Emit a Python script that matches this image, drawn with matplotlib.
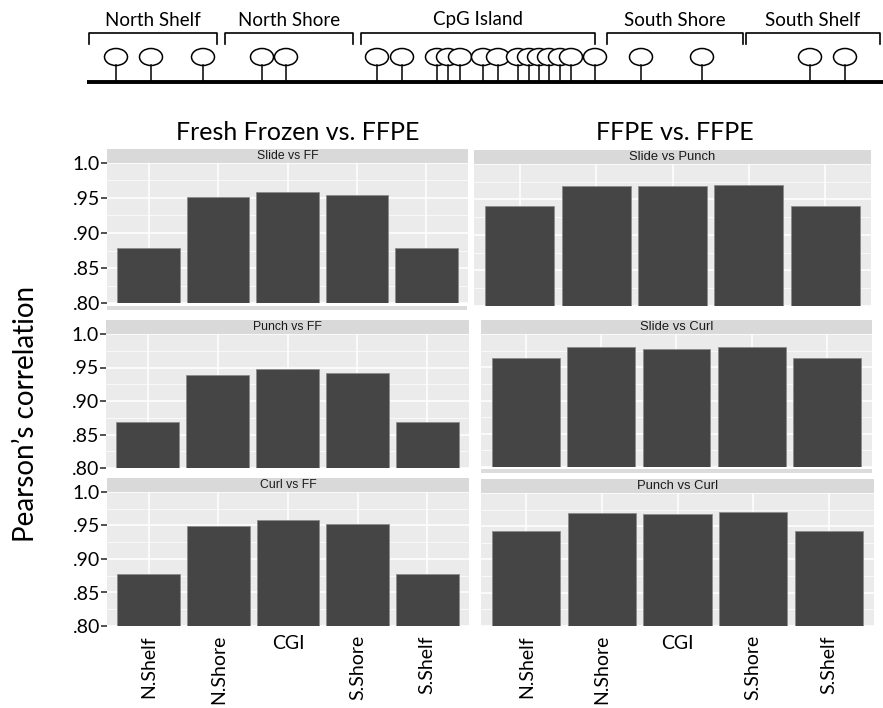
import matplotlib
matplotlib.use("Agg")
import matplotlib.pyplot as plt
from matplotlib.patches import Ellipse, Rectangle
import numpy as np

# categories
regions = ["N.Shelf", "N.Shore", "CGI", "S.Shore", "S.Shelf"]

# Pearson correlation per region
slide_vs_ff = [0.879, 0.951, 0.958, 0.954, 0.879]
punch_vs_ff = [0.868, 0.939, 0.948, 0.942, 0.868]
curl_vs_ff = [0.877, 0.949, 0.958, 0.952, 0.877]
slide_vs_punch = [0.941, 0.969, 0.969, 0.971, 0.941]
slide_vs_curl = [0.964, 0.980, 0.978, 0.981, 0.964]
punch_vs_curl = [0.943, 0.970, 0.968, 0.972, 0.943]

y_ticks = [0.80, 0.85, 0.90, 0.95, 1.0]
y_tick_labels = [".80", ".85", ".90", ".95", "1.0"]

# schematic at the top (illustration only)
region_names = ["North Shelf", "North Shore", "CpG Island", "South Shore", "South Shelf"]
region_spans = [(89, 217), (225, 353), (361, 595), (607, 743), (746, 880)]
probe_x = [116, 151, 203, 262, 286, 377, 402, 437, 448, 460, 483, 498,
           518, 529, 539, 549, 560, 571, 595, 641, 702, 810, 845]

W, H = 883, 708
FONT = ["Lato", "DejaVu Sans"]
STRIP_FONT = ["Liberation Sans", "DejaVu Sans"]

fig = plt.figure(figsize=(W / 100, H / 100), dpi=100)


def px_axes(x0, y0, x1, y1):
    return fig.add_axes([x0 / W, 1 - y1 / H, (x1 - x0) / W, (y1 - y0) / H])


# --- top schematic ---
sch = px_axes(0, 0, W, 95)
sch.set_xlim(0, W)
sch.set_ylim(95, 0)
sch.axis("off")
sch.plot([87, W], [82, 82], color="black", lw=2.8, solid_capstyle="butt")
for name, (a, b) in zip(region_names, region_spans):
    sch.plot([a, a, b, b], [44, 33, 33, 44], color="black", lw=1.2)
    sch.text((a + b) / 2, 20, name, ha="center", va="center",
             fontsize=13.5, family=FONT)
for px in probe_x:
    sch.plot([px, px], [65, 82], color="black", lw=1.1)
    sch.add_patch(Ellipse((px, 57), 23, 17, facecolor="white",
                          edgecolor="black", lw=1.1))

# --- bar panels ---
panels = [
    ((107, 163, 468, 303), slide_vs_ff, "Slide vs FF", 8.8, True, False),
    ((106, 334, 469, 468), punch_vs_ff, "Punch vs FF", 8.8, True, False),
    ((107, 492, 469, 626), curl_vs_ff, "Curl vs FF", 8.8, True, True),
    ((474, 164, 871, 306), slide_vs_punch, "Slide vs Punch", 9.4, False, False),
    ((481, 334, 872, 467), slide_vs_curl, "Slide vs Curl", 9.4, False, False),
    ((481, 493, 874, 626), punch_vs_curl, "Punch vs Curl", 9.4, False, True),
]

x = np.arange(len(regions))
for (x0, y0, x1, y1), vals, title, sfs, show_y, show_x in panels:
    ax = px_axes(x0, y0, x1, y1)
    ax.set_facecolor("#EBEBEB")
    ax.bar(x, vals, width=0.9, color="#454545", edgecolor="#8C8C8C",
           linewidth=0.6, zorder=3)
    ax.set_xlim(-0.6, len(regions) - 0.4)
    ax.set_ylim(0.80, 1.0)
    ax.set_yticks(y_ticks)
    ax.set_yticks([0.825, 0.875, 0.925, 0.975], minor=True)
    ax.set_xticks(x)
    ax.grid(which="major", color="white", lw=1.1, zorder=1)
    ax.grid(which="minor", axis="y", color="white", lw=0.5, zorder=1)
    for s in ax.spines.values():
        s.set_visible(False)
    ax.tick_params(axis="x", length=0)
    ax.tick_params(axis="y", which="minor", length=0)
    if show_y:
        ax.set_yticklabels(y_tick_labels, fontsize=14, family=FONT)
        ax.tick_params(axis="y", which="major", length=4.5, width=1.2,
                       color="#333333", pad=0.5)
    else:
        ax.set_yticklabels([])
        ax.tick_params(axis="y", length=0)
    if show_x:
        ax.set_xticklabels(regions, fontsize=14, family=FONT)
        ax.tick_params(axis="x", pad=6.5)
        for lab in ax.get_xticklabels():
            if lab.get_text() != "CGI":
                lab.set_rotation(90)
            lab.set_va("top")
    else:
        ax.set_xticklabels([])

    strip = px_axes(x0, y0 - 14, x1, y0)
    strip.set_facecolor("#D9D9D9")
    strip.set_xticks([])
    strip.set_yticks([])
    for s in strip.spines.values():
        s.set_visible(False)
    strip.text(0.5, 0.5, title, ha="center", va="center", fontsize=sfs,
               color="#1A1A1A", family=STRIP_FONT, transform=strip.transAxes)

# leftover strip pieces from the original panel crop
for (bx0, by0, bx1, by1) in [(107, 306, 467, 309.5), (481, 469, 872, 473)]:
    fig.patches.append(Rectangle((bx0 / W, 1 - by1 / H), (bx1 - bx0) / W,
                                 (by1 - by0) / H, transform=fig.transFigure,
                                 facecolor="#DCDCDC", edgecolor="none"))

# titles and shared y label
fig.text(298 / W, 1 - 132 / H, "Fresh Frozen vs. FFPE", ha="center",
         va="center", fontsize=18, family=FONT)
fig.text(675 / W, 1 - 132 / H, "FFPE vs. FFPE", ha="center", va="center",
         fontsize=18, family=FONT)
fig.text(26 / W, 1 - 414 / H, "Pearson\u2019s correlation", rotation=90,
         ha="center", va="center", fontsize=20, family=FONT)

fig.savefig("out.png", dpi=100)
